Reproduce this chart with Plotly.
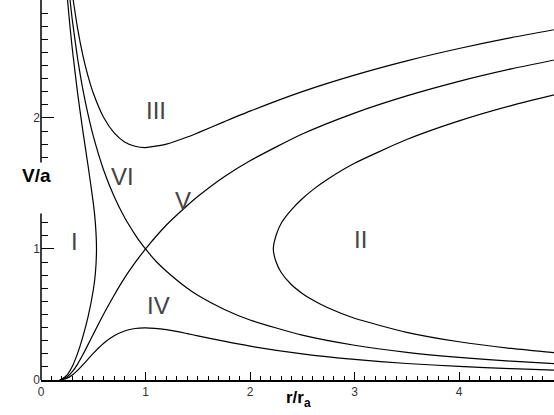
import plotly.graph_objects as go

# Curve I (closed-left branch, subsonic bottom -> supersonic top)
r_I = [0.18, 0.2, 0.25, 0.3, 0.35, 0.4, 0.45, 0.5, 0.52, 0.531, 0.52, 0.5, 0.45, 0.4, 0.35, 0.3, 0.275, 0.25]
v_I = [0.001, 0.0084, 0.0397, 0.105, 0.203, 0.329, 0.481, 0.685, 0.8105, 1.0, 1.201, 1.354, 1.637, 1.903, 2.191, 2.524, 2.717, 2.934]

# Curve II (open-right branch)
r_II = [5.0, 4.5, 4.0, 3.5, 3.0, 2.75, 2.6, 2.5, 2.4, 2.3, 2.25, 2.223, 2.25, 2.3, 2.4, 2.5, 2.6, 2.75, 3.0, 3.5, 4.0, 4.5, 5.0]
v_II = [0.202, 0.241, 0.292, 0.364, 0.471, 0.549, 0.61, 0.661, 0.725, 0.8188, 0.9, 1.0, 1.105, 1.198, 1.302, 1.383, 1.451, 1.536, 1.654, 1.835, 1.977, 2.094, 2.193]

# Curve III (upper)
r_III = [0.308, 0.35, 0.4, 0.45, 0.5, 0.6, 0.7, 0.8, 0.9, 1.0, 1.2, 1.4, 1.5, 1.75, 2.0, 2.5, 3.0, 3.5, 4.0, 4.5, 5.0]
v_III = [2.9, 2.684, 2.48, 2.319, 2.19, 2.003, 1.886, 1.817, 1.784, 1.774, 1.80, 1.854, 1.886, 1.97, 2.052, 2.201, 2.327, 2.436, 2.53, 2.613, 2.686]

# Curve IV (lower)
r_IV = [0.18, 0.2, 0.25, 0.3, 0.35, 0.4, 0.45, 0.5, 0.6, 0.7, 0.8, 0.9, 1.0, 1.2, 1.4, 1.5, 1.75, 2.0, 2.5, 3.0, 3.5, 4.0, 4.5, 5.0]
v_IV = [0.001, 0.0031, 0.0146, 0.0385, 0.0734, 0.115, 0.16, 0.203, 0.28, 0.337, 0.374, 0.393, 0.398, 0.384, 0.354, 0.337, 0.296, 0.2585, 0.1995, 0.157, 0.126, 0.1036, 0.0864, 0.073]

# Curve V (critical, accelerating)
r_V = [0.18, 0.2, 0.25, 0.3, 0.35, 0.4, 0.45, 0.5, 0.6, 0.7, 0.8, 0.9, 0.95, 1.0, 1.05, 1.1, 1.2, 1.4, 1.5, 1.75, 2.0, 2.5, 3.0, 3.5, 4.0, 4.5, 5.0]
v_V = [0.001, 0.005, 0.024, 0.0635, 0.1215, 0.192, 0.27, 0.349, 0.504, 0.647, 0.779, 0.895, 0.949, 1.0, 1.048, 1.095, 1.183, 1.332, 1.40, 1.549, 1.673, 1.877, 2.037, 2.168, 2.279, 2.374, 2.457]

# Curve VI (critical, decelerating)
r_VI = [0.278, 0.3, 0.35, 0.4, 0.45, 0.5, 0.6, 0.7, 0.8, 0.9, 0.95, 1.0, 1.1, 1.2, 1.4, 1.5, 1.75, 2.0, 2.5, 3.0, 3.5, 4.0, 4.5, 5.0]
v_VI = [2.9, 2.745, 2.455, 2.22, 2.027, 1.863, 1.601, 1.40, 1.24, 1.11, 1.052, 1.0, 0.906, 0.83, 0.700, 0.647, 0.540, 0.458, 0.342, 0.265, 0.211, 0.1725, 0.1434, 0.121]

curve_labels = ["I", "II", "III", "IV", "V", "VI"]
label_x = [0.325, 3.06, 1.10, 1.12, 1.36, 0.78]
label_y = [1.06, 1.07, 2.06, 0.57, 1.37, 1.55]

x_ticks = [0, 1, 2, 3, 4]
y_ticks = [0, 1, 2]
y_minor = [0.1, 0.2, 0.3, 0.4, 0.5, 0.6, 0.7, 0.8, 0.9, 1.1, 1.2,
           1.7, 1.8, 1.9, 2.1, 2.2, 2.3, 2.4, 2.5, 2.6, 2.7, 2.8, 2.9]

fig = go.Figure()
for rr, vv in [(r_I, v_I), (r_II, v_II), (r_III, v_III), (r_IV, v_IV), (r_V, v_V), (r_VI, v_VI)]:
    fig.add_trace(go.Scatter(x=rr, y=vv, mode="lines",
                             line=dict(color="black", width=1.2, shape="spline", smoothing=0.6),
                             hoverinfo="skip", showlegend=False, cliponaxis=True))

for t, xx, yy in zip(curve_labels, label_x, label_y):
    fig.add_annotation(x=xx, y=yy, text=t, showarrow=False,
                       font=dict(family="Liberation Sans", size=24, color="#444444"))

fig.add_annotation(xref="paper", yref="paper", x=-0.041, y=0.537, text="V/a", showarrow=False,
                   font=dict(family="Liberation Sans", size=19, color="black", weight="bold"))
fig.add_annotation(xref="paper", yref="paper", x=0.501, y=-0.085, text="r/r<sub>a</sub>", showarrow=False,
                   font=dict(family="Liberation Sans", size=17, color="black", weight="bold"))

# broken y axis line
fig.add_shape(type="line", xref="paper", yref="y", x0=0, x1=0, y0=0, y1=1.27,
              line=dict(color="black", width=1.5))
fig.add_shape(type="line", xref="paper", yref="y", x0=0, x1=0, y0=1.66, y1=2.9,
              line=dict(color="black", width=1.5))

fig.update_layout(
    width=554, height=415,
    margin=dict(l=41, r=0, t=0, b=35),
    paper_bgcolor="white", plot_bgcolor="white",
    showlegend=False,
    xaxis=dict(range=[0, 4.909], showgrid=False, zeroline=False,
               showline=True, linecolor="black", linewidth=1.5,
               tickmode="array", tickvals=x_ticks, ticktext=[str(v) for v in x_ticks],
               ticks="inside", ticklen=8, tickwidth=1, tickcolor="black",
               minor=dict(dtick=0.1, tick0=0, ticks="inside", ticklen=4, tickwidth=1, tickcolor="black"),
               tickfont=dict(family="Liberation Sans", size=12, color="#333333")),
    yaxis=dict(range=[0, 2.9], showgrid=False, zeroline=False, showline=False,
               tickmode="array", tickvals=y_ticks, ticktext=[str(v) for v in y_ticks],
               ticks="inside", ticklen=13, tickwidth=1, tickcolor="black",
               minor=dict(tickmode="array", tickvals=y_minor, ticks="inside", ticklen=7,
                          tickwidth=1, tickcolor="black"),
               tickfont=dict(family="Liberation Sans", size=12, color="#333333")),
)

fig.write_html("out.html", config={"displayModeBar": False},
               post_script="document.body.style.margin='0';document.body.style.padding='0';")
